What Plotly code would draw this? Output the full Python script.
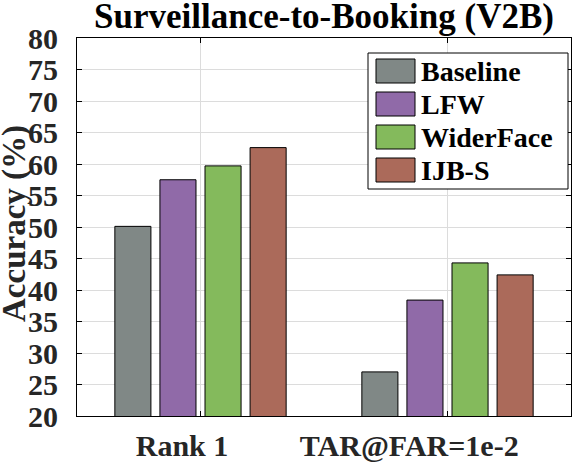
import plotly.graph_objects as go

metrics = ["Rank 1", "TAR@FAR=1e-2"]
methods = ["Baseline", "LFW", "WiderFace", "IJB-S"]
baseline = [50.1, 27.0]
lfw = [57.5, 38.4]
widerface = [59.7, 44.3]
ijbs = [62.6, 42.4]
y_ticks = list(range(20, 81, 5))

_COLORS = ["#808886", "#906aa8", "#84ba5c", "#ab6a5a"]
_FONT = "Liberation Serif"

W, H = 572, 463
L, R, T, B = 77, 1, 38, 47
PW, PH = W - L - R, H - T - B


def px_x(px):
    return (px - L) / PW


def px_y(py):
    return (H - B - py) / PH


series = [baseline, lfw, widerface, ijbs]
group_pos = [1, 2]
label_pos = [0.925, 1.845]

fig = go.Figure()
for name, vals, color in zip(methods, series, _COLORS):
    fig.add_trace(
        go.Bar(
            x=group_pos,
            y=vals,
            name=name,
            marker={"color": color, "line": {"color": "#000000", "width": 1}},
            showlegend=False,
        )
    )

# invisible trace to carry the shifted category labels on a second x axis
fig.add_trace(
    go.Scatter(x=label_pos, y=[None, None], xaxis="x2", showlegend=False, hoverinfo="skip")
)

# legend drawn by hand so the swatches can be as large as in the original
shapes = [
    dict(type="rect", xref="paper", yref="paper",
         x0=px_x(368), x1=px_x(568), y0=px_y(189), y1=px_y(53),
         line={"color": "#000000", "width": 1}, fillcolor="#ffffff", layer="above")
]
annotations = []
for i, (name, color) in enumerate(zip(methods, _COLORS)):
    top = 59 + 33 * i
    shapes.append(
        dict(type="rect", xref="paper", yref="paper",
             x0=px_x(376), x1=px_x(415), y0=px_y(top + 24), y1=px_y(top),
             line={"color": "#000000", "width": 1}, fillcolor=color, layer="above")
    )
    annotations.append(
        dict(text=f"<b>{name}</b>", xref="paper", yref="paper", x=px_x(419), y=px_y(top + 12),
             xanchor="left", yanchor="middle", showarrow=False,
             font={"family": _FONT, "size": 28, "color": "#000000"})
    )

annotations.append(
    dict(text="<b>Accuracy (%)</b>", xref="paper", yref="paper", x=px_x(14), y=px_y(224),
         xanchor="center", yanchor="middle", textangle=-90, showarrow=False,
         font={"family": _FONT, "size": 33, "color": "#262626"})
)

fig.update_layout(
    width=W,
    height=H,
    margin={"l": L, "r": R, "t": T, "b": B, "pad": 0, "autoexpand": False},
    barmode="group",
    bargap=0.27,
    bargroupgap=0.2,
    plot_bgcolor="#ffffff",
    paper_bgcolor="#ffffff",
    font={"family": _FONT, "color": "#262626"},
    title={
        "text": "<b>Surveillance-to-Booking (V2B)</b>",
        "x": 0.5,
        "xref": "paper",
        "xanchor": "center",
        "y": 1 - 16 / H,
        "yref": "container",
        "yanchor": "middle",
        "pad": {"t": 0, "b": 0},
        "font": {"family": _FONT, "size": 35, "color": "#000000"},
    },
    shapes=shapes,
    annotations=annotations,
    xaxis={
        "range": [0.5, 2.5],
        "tickvals": group_pos,
        "showticklabels": False,
        "ticks": "inside",
        "ticklen": 5,
        "tickcolor": "#000000",
        "showgrid": True,
        "gridcolor": "#dcdcdc",
        "gridwidth": 1,
        "showline": True,
        "linecolor": "#000000",
        "linewidth": 1,
        "mirror": "ticks",
        "zeroline": False,
        "automargin": False,
    },
    xaxis2={
        "overlaying": "x",
        "side": "bottom",
        "range": [0.5, 2.5],
        "tickvals": label_pos,
        "ticktext": [f"<b>{m}</b>" for m in metrics],
        "ticks": "",
        "showgrid": False,
        "showline": False,
        "zeroline": False,
        "automargin": False,
        "ticklabelstandoff": 9,
        "tickfont": {"family": _FONT, "size": 30, "color": "#262626"},
    },
    yaxis={
        "range": [20, 80],
        "tickvals": y_ticks,
        "ticktext": [f"<b>{v}</b>" for v in y_ticks],
        "ticks": "inside",
        "ticklen": 5,
        "tickcolor": "#000000",
        "ticklabelstandoff": 12,
        "tickfont": {"family": _FONT, "size": 30, "color": "#262626"},
        "showgrid": True,
        "gridcolor": "#dcdcdc",
        "gridwidth": 1,
        "showline": True,
        "linecolor": "#000000",
        "linewidth": 1,
        "mirror": "ticks",
        "zeroline": False,
        "automargin": False,
    },
)

# drop the browser's default body margin so the figure sits at the window corner
fig.write_html(
    "out.html",
    config={"displayModeBar": False},
    post_script="document.body.style.margin = '0';",
)
